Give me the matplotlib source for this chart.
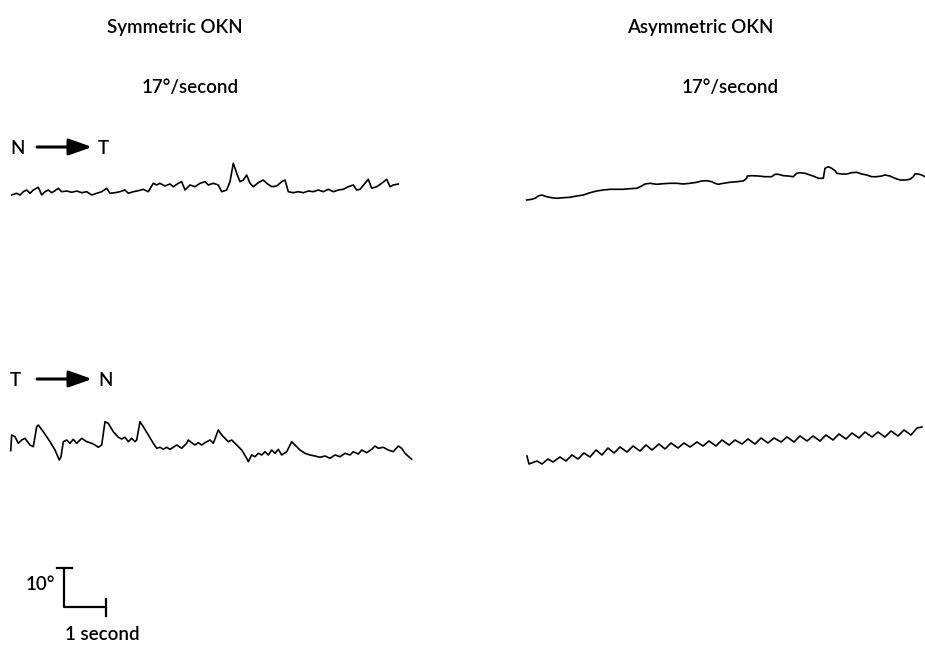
import numpy as np
import matplotlib
matplotlib.use("Agg")
import matplotlib.pyplot as plt

plt.rcParams['font.family'] = ['Lato', 'DejaVu Sans']

# traces (x, y in picture pixels, y down)
sym_nt_x = [11.7, 16.7, 20, 23.3, 26.7, 30, 33.3, 38.3, 41.7, 45, 48.3, 51.7, 55, 58.3, 61.7, 66.7,
            71.7, 76.7, 81.7, 86.7, 91.7, 96.7, 101.7, 106.7, 110, 115, 120, 125, 128.3, 133.3, 138.3,
            143.3, 148.3, 153.3, 156.7, 160, 165, 170, 173.3, 178.3, 181.7, 185, 190, 195, 200, 205,
            208.3, 213.3, 218.3, 221.7, 226.7, 230, 233.3, 236.7, 240, 243.3, 246.7, 250, 253.3, 258.3,
            263.3, 266.7, 271.7, 276.7, 281.7, 285, 288.3, 293.3, 298.3, 303.3, 308.3, 313.3, 318.3,
            323.3, 328.3, 333.3, 338.3, 343.3, 348.3, 353.3, 356.7, 360, 365, 368.3, 371.7, 376.7,
            381.7, 386.7, 390, 393.3, 398.3]
sym_nt_y = [195, 193.3, 195, 191.7, 190, 193.3, 190, 187.3, 195, 191.7, 190, 192.7, 190.7, 188.3, 191.7, 191,
            192.3, 191, 192.7, 191.7, 195, 193.3, 191.7, 188.3, 193.3, 192.7, 191.7, 190, 193.3, 191.7, 190.7,
            189.3, 191.7, 183.3, 185, 183.3, 186, 184, 186.7, 183.3, 181.7, 190, 185, 186.7, 183.3, 181.7,
            185, 183.3, 185, 191.7, 190, 181.7, 163.3, 173.3, 181.7, 180, 175, 183.3, 186.7, 182.7,
            180, 183.3, 186.7, 186, 181.7, 180, 191.7, 192.7, 191.7, 192.7, 191, 191.7, 190,
            191.7, 189.3, 191.7, 190, 189.3, 186.7, 185, 190, 189.3, 183.3, 179.3, 188.3, 186.7,
            183.3, 179.3, 186.7, 185, 184]

sym_tn_x = [10.7, 11.7, 15, 18.3, 21.7, 25, 30, 33.3, 36.7, 38.3, 43.3, 50, 55, 59.3, 61, 63.3, 66.7, 70,
            73.3, 76.7, 81.7, 86.7, 91.7, 95, 98.3, 101.7, 105, 108.3, 113.3, 118.3, 121.7, 125, 128.3,
            131.7, 135, 136.7, 140, 143.3, 148.3, 153.3, 156.7, 160, 163.3, 166.7, 170, 173.3, 176.7,
            181.7, 186.7, 188.3, 191.7, 195, 198.3, 201.7, 205, 210, 213.3, 218.3, 221.7, 225, 228.3,
            231.7, 236.7, 241.7, 246.7, 248.3, 251.7, 255, 258.3, 261.7, 265, 268.3, 271.7, 275, 278.3,
            281.7, 286.7, 291.7, 295, 300, 305, 310, 315, 320, 325, 330, 335, 340, 345, 350, 353.3,
            358.3, 361.7, 366.7, 371.7, 375, 378.3, 383.3, 388.3, 393.3, 398.3, 401.7, 405, 411.7]
sym_tn_y = [450.7, 435, 436.7, 443.3, 440, 438.3, 445, 446.7, 426.7, 425, 431.7, 441.7, 450, 460, 456.7, 441.7,
            440, 443.3, 439.3, 443.3, 438.3, 441.7, 443.3, 445, 447.3, 445, 421.7, 423.3, 431.7, 437.3,
            439, 437.3, 441.7, 438.3, 441.7, 440, 421.7, 426.7, 435, 443.3, 448.3, 447.3, 449.3, 447.3,
            449.3, 447.3, 445, 448.3, 443.3, 440, 442.7, 445, 442.7, 445, 442.7, 440, 443.3, 430, 435,
            438.3, 441.7, 440, 445, 450, 458.3, 461.7, 455, 456.7, 453.3, 455, 451.7, 455, 450, 453.3,
            449.3, 455, 451.7, 441.7, 445, 450, 453.3, 455, 456, 457.3, 456, 458.3, 455, 456.7, 453.3,
            455, 451.7, 454, 450, 452.7, 449.3, 446, 448.3, 447.3, 450, 451.7, 446, 448.3, 453.3, 459.3]

asym_nt_x = [526.7, 531.7, 535, 538.3, 541.7, 546.7, 551.7, 556.7, 563.3, 570, 576.7, 583.3, 590, 596.7,
             603.3, 610, 616.7, 623.3, 630, 636.7, 641.7, 645, 650, 656.7, 663.3, 670, 676.7, 683.3, 690,
             696.7, 701.7, 706.7, 711.7, 715, 718.3, 723.3, 730, 736.7, 743.3, 746.7, 747.3, 751.7, 758.3,
             765, 771.7, 775, 778.3, 783.3, 788.3, 793.3, 796.7, 800, 805, 810, 815, 818.3, 823.3, 825,
             828.3, 831.7, 835, 836.7, 841.7, 846.7, 851.7, 856.7, 861.7, 866.7, 871.7, 876.7, 881.7,
             885, 890, 895, 900, 905, 910, 913.3, 915, 918.3, 921.7, 925]
asym_nt_y = [200, 199.3, 198.3, 196, 195, 196.7, 197.7, 198.3, 197.7, 197.3, 196, 195, 192.7, 191,
             190, 189.3, 189.3, 189.3, 188.7, 188.3, 186, 184, 183.3, 184.3, 183.7, 183.3, 183.3, 184, 183.3,
             182.3, 181, 180.7, 181.7, 183.3, 184.3, 183.3, 182.3, 181.7, 181, 178.3, 176, 175.7, 176,
             176.7, 176.7, 174.3, 174.3, 175.7, 176, 176.7, 173.3, 172.7, 173.3, 175, 176.7, 178.3, 178.3, 168.3,
             166.7, 168.3, 170.7, 173.3, 174, 174, 172.7, 172.3, 174, 175, 176.7, 176.7, 176,
             175, 176, 178.3, 180, 180, 179.3, 176.7, 174, 174, 175, 176.7]

asym_tn_x = [527, 529, 537, 542, 548, 553, 560, 566, 572, 578, 584, 590, 596, 602, 608, 614, 620, 627,
             633, 640, 646, 652, 659, 665, 671, 678, 684, 690, 697, 703, 709, 716, 722, 729, 735, 742,
             748, 755, 761, 768, 774, 781, 787, 794, 800, 807, 813, 820, 826, 833, 839, 846, 852, 859,
             865, 872, 878, 885, 891, 898, 904, 911, 917, 922]
asym_tn_y = [456, 464, 461, 464, 459, 462, 457, 461, 455, 459, 453, 457, 450, 455, 448, 453, 447, 452,
             446, 451, 445, 450, 444, 449, 443, 448, 443, 447, 442, 446, 441, 446, 440, 445, 440, 444,
             439, 444, 438, 443, 438, 442, 437, 442, 436, 441, 436, 441, 435, 440, 434, 439, 433, 438,
             432, 437, 432, 437, 431, 436, 430, 435, 428, 427]

fig = plt.figure(figsize=(9.25, 6.48), dpi=100)
ax = fig.add_axes([0, 0, 1, 1])
ax.set_xlim(0, 925)
ax.set_ylim(648, 0)
ax.axis('off')

lw = 1.2
for xs, ys in [(sym_nt_x, sym_nt_y), (sym_tn_x, sym_tn_y),
               (asym_nt_x, asym_nt_y), (asym_tn_x, asym_tn_y)]:
    ax.plot(xs, ys, color='black', lw=lw, solid_joinstyle='round')

fs = 13.5
tw = 'semibold'
ax.text(175, 27, 'Symmetric OKN', ha='center', va='center', fontsize=fs, fontweight=tw)
ax.text(700, 27, 'Asymmetric OKN', ha='center', va='center', fontsize=fs, fontweight=tw)
ax.text(190, 87, '17°/second', ha='center', va='center', fontsize=fs, fontweight=tw)
ax.text(730, 87, '17°/second', ha='center', va='center', fontsize=fs, fontweight=tw)

# direction labels
for y, a, b in [(148, 'N', 'T'), (380, 'T', 'N')]:
    ax.text(10, y, a, ha='left', va='center', fontsize=fs, fontweight=tw)
    ax.annotate('', xy=(92, y - 1), xytext=(37, y - 1),
                arrowprops=dict(arrowstyle='-|>,head_length=1.4,head_width=0.5',
                                lw=2.2, color='black', shrinkA=0, shrinkB=0))
    ax.text(98, y, b, ha='left', va='center', fontsize=fs, fontweight=tw)

# scale bar
ax.plot([64, 64, 106], [568, 607, 607], color='black', lw=1.6)
ax.plot([57, 72], [568, 568], color='black', lw=1.6)
ax.plot([106, 106], [599, 616], color='black', lw=1.6)
ax.text(55, 585, '10°', ha='right', va='center', fontsize=fs, fontweight=tw)
ax.text(65, 635, '1 second', ha='left', va='center', fontsize=fs, fontweight=tw)

fig.savefig('out.png', dpi=100)
